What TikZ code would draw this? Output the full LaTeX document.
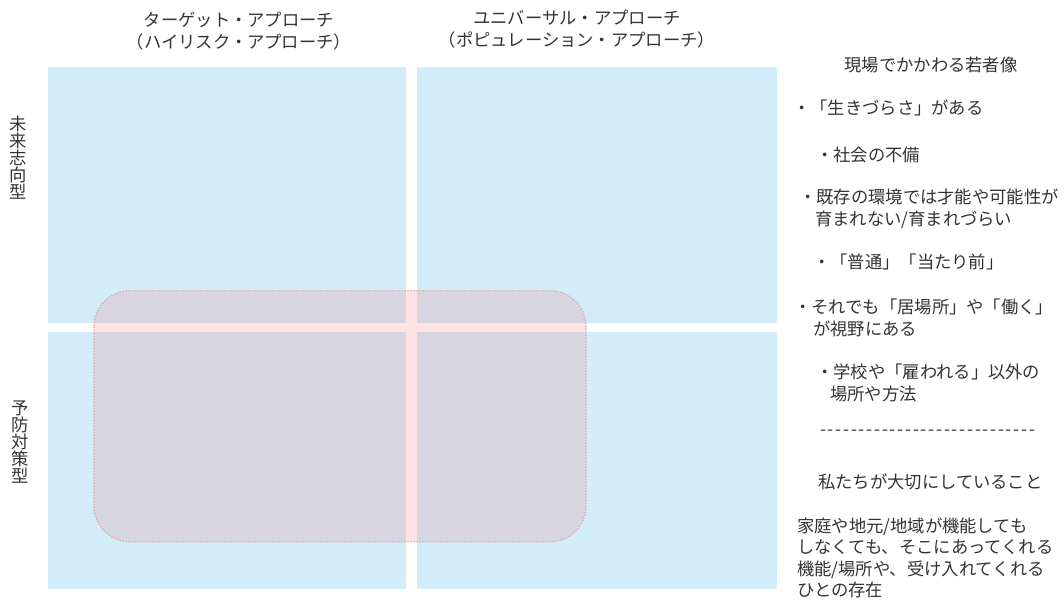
\documentclass[tikz,border=0pt]{standalone}
\usepackage{fontspec}
\setmainfont{Noto Sans CJK JP}
\usepackage{tikz}
\usetikzlibrary{calc}
\definecolor{quadblue}{HTML}{D2ECF8}
\definecolor{overlapgray}{HTML}{D7D6E0}
\definecolor{gappink}{HTML}{FFE2E4}
\definecolor{dotred}{HTML}{E59CA5}
\definecolor{textgray}{HTML}{333333}
\newcommand{\jpfont}{\fontsize{17.3pt}{21.5pt}\selectfont}
\newcommand{\dashrow}{\hbox to 215pt{-\foreach \i in {2,...,28}{\hfil-}}}

\begin{document}
\begin{tikzpicture}[x=1pt,y=-1pt,
  txt/.style={text=textgray,font=\jpfont,inner sep=0pt,align=left},
  vtxt/.style={text=textgray,font=\fontsize{17.3pt}{17pt}\selectfont,inner sep=0pt,align=center}]
\useasboundingbox (0,0) rectangle (1064,601);
% four quadrants
\foreach \xa/\xb in {48/405.7, 417.3/776.7}
  \foreach \ya/\yb in {67/323.3, 332.3/588.7}
    \fill[quadblue] (\xa,\ya) rectangle (\xb,\yb);
% overlap area
\fill[overlapgray, rounded corners=36pt] (94,290.7) rectangle (586,541.7);
\begin{scope}
  \clip[rounded corners=36pt] (94,290.7) rectangle (586,541.7);
  \fill[gappink] (405.7,280) rectangle (417.3,550);
  \fill[gappink] (80,323.3) rectangle (600,332.3);
\end{scope}
\draw[dotred, line width=1.3pt, dash pattern=on 1.2pt off 1.8pt, rounded corners=36pt] (94,290.7) rectangle (586,541.7);
% headers and side labels
\node[txt,align=center] (hdrTarget) at (239,31) {ターゲット・アプローチ\\（ハイリスク・アプローチ）};
\node[txt,align=center] (hdrUniversal) at (577,29) {ユニバーサル・アプローチ\\（ポピュレーション・アプローチ）};
\node[vtxt] (lblFuture) at (18,157.5) {未\\来\\志\\向\\型};
\node[vtxt] (lblPrevent) at (20,442.5) {予\\防\\対\\策\\型};
% right column
\node[txt] (youthTitle) at (931,65) {現場でかかわる若者像};
\node[txt,anchor=west] (itemA) at (793,108) {・「生きづらさ」がある};
\node[txt,anchor=west] (itemA1) at (816,155) {・社会の不備};
\node[txt,anchor=west] (itemB) at (799,208.5) {・既存の環境では才能や可能性が\\\hspace*{16pt}育まれない/育まれづらい};
\node[txt,anchor=west] (itemB1) at (813,262) {・「普通」「当たり前」};
\node[txt,anchor=west] (itemC) at (794,318) {・それでも「居場所」や「働く」\\\hspace*{19pt}が視野にある};
\node[txt,anchor=west] (itemC1) at (816,383) {・学校や「雇われる」以外の\\\hspace*{14pt}場所や方法};
\node[txt,anchor=west] (sepLine) at (820,433) {\dashrow};
\node[txt,anchor=west] (valueTitle) at (818,482) {私たちが大切にしていること};
\node[txt,anchor=west] (valueText) at (797,558) {家庭や地元/地域が機能しても\\しなくても、そこにあってくれる\\機能/場所や、受け入れてくれる\\ひとの存在};
\end{tikzpicture}
\end{document}
